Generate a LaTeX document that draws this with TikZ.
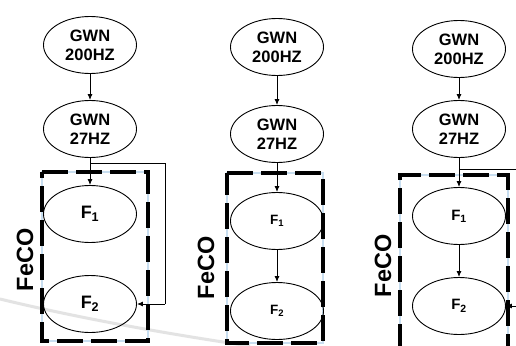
\documentclass[tikz,border=0pt]{standalone}
\usepackage{fontspec}
\setmainfont{Liberation Sans}
\usetikzlibrary{shapes.geometric,arrows.meta}
\definecolor{gapblue}{RGB}{200,222,240}
\tikzset{
  el/.style={ellipse,draw,line width=0.9pt,minimum width=93pt,minimum height=57pt,inner sep=0pt,
    align=center,font=\fontsize{16.5}{19}\selectfont\bfseries},
  fel/.style={el,font=\fontsize{18}{20}\selectfont\bfseries},
  conn/.style={line width=0.9pt,-{Latex[length=6pt,width=5pt]}},
  plain/.style={line width=0.9pt},
  boxunder/.style={gapblue,line width=2pt},
  boxdash/.style={black,line width=3.2pt,dash pattern=on 26pt off 8pt},
  feco/.style={rotate=90,font=\fontsize{23.5}{26}\selectfont\bfseries,inner sep=0pt},
  wm/.style={gray!22,line width=3pt}
}
\begin{document}
\begin{tikzpicture}[x=1pt,y=-1pt]
\useasboundingbox (0,0) rectangle (516,345);
\fill[white] (0,0) rectangle (516,345);
% watermark arc
\draw[wm] (0,299) .. controls (70,316) and (160,333) .. (250,346);
% ---------- panel 1 ----------
\draw[boxunder] (42,172) rectangle (148,341);
\draw[boxdash] (42,172) -- (148,172) -- (148,341) -- (42,341) -- cycle;
\node[el] (a1) at (90,45) {GWN\\200HZ};
\node[el] (b1) at (90,129) {GWN\\27HZ};
\node[fel] (c1) at (90,214) {F\textsubscript{1}};
\node[fel] (d1) at (90,304) {F\textsubscript{2}};
\node[feco] (l1) at (25,260) {FeCO};
\draw[conn] (a1) -- (b1);
\draw[conn] (b1) -- (c1);
\coordinate (p1) at (90,163);
\coordinate (q1) at (165,163);
\coordinate (r1) at (165,304);
\draw[plain] (p1) -- (q1) -- (r1);
\draw[conn] (r1) -- (d1.east);
% ---------- panel 2 ----------
\draw[boxunder] (227,173) rectangle (323,343);
\draw[boxdash] (227,173) -- (323,173) -- (323,343) -- (227,343) -- cycle;
\node[el] (a2) at (277,47) {GWN\\200HZ};
\node[el] (b2) at (277,134) {GWN\\27HZ};
\node[el,font=\fontsize{13.5}{15}\selectfont\bfseries] (c2) at (277,221) {F\textsubscript{1}};
\node[el,font=\fontsize{13.5}{15}\selectfont\bfseries] (d2) at (277,311) {F\textsubscript{2}};
\node[feco] (l2) at (206,268) {FeCO};
\draw[conn] (a2) -- (b2);
\draw[conn] (b2) -- (c2);
\draw[conn] (c2) -- (d2);
% ---------- panel 3 ----------
\draw[boxunder] (400,175) -- (508,175) (400,175) -- (400,350) (508,175) -- (508,350);
\draw[boxdash] (400,350) -- (400,175) -- (508,175) -- (508,350);
\node[el] (a3) at (459,49) {GWN\\200HZ};
\node[el] (b3) at (459,129) {GWN\\27HZ};
\node[el,font=\fontsize{15}{17}\selectfont\bfseries] (c3) at (459,216) {F\textsubscript{1}};
\node[el,font=\fontsize{15}{17}\selectfont\bfseries] (d3) at (459,306) {F\textsubscript{2}};
\node[feco] (l3) at (383,266) {FeCO};
\draw[conn] (a3) -- (b3);
\draw[conn] (b3) -- (c3);
\draw[conn] (c3) -- (d3);
\coordinate (p3) at (459,169);
\coordinate (q3) at (516,169);
\coordinate (r3) at (516,306);
\draw[plain] (p3) -- (q3);
\draw[conn] (r3) -- (d3.east);
\end{tikzpicture}
\end{document}
